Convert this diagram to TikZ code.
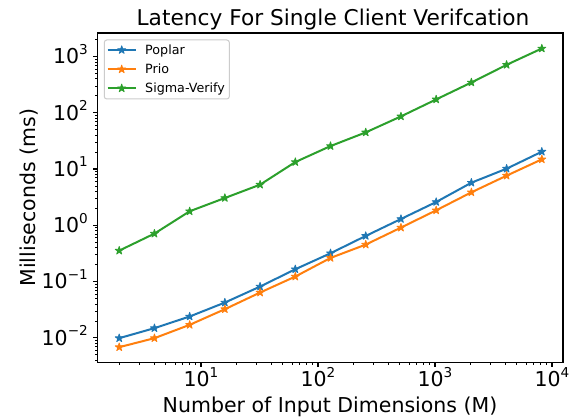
\documentclass[tikz,border=0pt]{standalone}
\usepackage{fontspec}
\setmainfont{DejaVu Sans}
\definecolor{tabblue}{HTML}{1F77B4}
\definecolor{taborange}{HTML}{FF7F0E}
\definecolor{tabgreen}{HTML}{2CA02C}
\definecolor{legedge}{HTML}{CCCCCC}
\pgfdeclareplotmark{fstar}{%
  \pgfpathmoveto{\pgfpointpolar{90}{\pgfplotmarksize}}%
  \pgfpathlineto{\pgfpointpolar{126}{0.382*\pgfplotmarksize}}%
  \pgfpathlineto{\pgfpointpolar{162}{\pgfplotmarksize}}%
  \pgfpathlineto{\pgfpointpolar{198}{0.382*\pgfplotmarksize}}%
  \pgfpathlineto{\pgfpointpolar{234}{\pgfplotmarksize}}%
  \pgfpathlineto{\pgfpointpolar{270}{0.382*\pgfplotmarksize}}%
  \pgfpathlineto{\pgfpointpolar{306}{\pgfplotmarksize}}%
  \pgfpathlineto{\pgfpointpolar{342}{0.382*\pgfplotmarksize}}%
  \pgfpathlineto{\pgfpointpolar{18}{\pgfplotmarksize}}%
  \pgfpathlineto{\pgfpointpolar{54}{0.382*\pgfplotmarksize}}%
  \pgfpathclose
  \pgfusepathqfillstroke}
\newcommand\tp[1]{10\raisebox{9.5pt}{\fontsize{13.6}{14}\selectfont #1}}
\newcommand\bigfont{\fontsize{20.5}{24}\selectfont}
\begin{document}
\begin{tikzpicture}[x=1pt,y=-1pt,
  series/.style={line width=2pt, line join=round, draw=#1,
    mark=fstar, mark size=4.2pt, mark options={fill=#1, draw=#1, line width=0.8pt}},
  ticklab/.style={inner sep=0pt, font=\bigfont},
  legtext/.style={anchor=base west, inner sep=0pt, font=\fontsize{12.7}{14}\selectfont}]
\useasboundingbox[fill=white] (0,0) rectangle (571,419);

% data
\begin{scope}[shift={(84,225.3)}, x=117pt, y=56.27pt]
\draw[series=tabblue] plot coordinates {
 (0.301,-2.006) (0.602,-1.828) (0.903,-1.621) (1.204,-1.373) (1.505,-1.089)
 (1.806,-0.781) (2.107,-0.497) (2.408,-0.189) (2.709,0.112) (3.010,0.414)
 (3.311,0.757) (3.612,1.006) (3.913,1.308)};
\draw[series=taborange] plot coordinates {
 (0.301,-2.166) (0.602,-2.006) (0.903,-1.769) (1.204,-1.491) (1.505,-1.195)
 (1.806,-0.911) (2.107,-0.580) (2.408,-0.343) (2.709,-0.041) (3.010,0.266)
 (3.311,0.586) (3.612,0.882) (3.913,1.172)};
\draw[series=tabgreen] plot coordinates {
 (0.301,-0.450) (0.602,-0.148) (0.903,0.249) (1.204,0.485) (1.505,0.722)
 (1.806,1.124) (2.107,1.408) (2.408,1.651) (2.709,1.935) (3.010,2.237)
 (3.311,2.538) (3.612,2.852) (3.913,3.142)};
\end{scope}

% minor ticks
\begin{scope}
\clip (97,362) rectangle (563.5,372);
\foreach \n in {0,...,4} \foreach \k in {2,...,9} {
  \pgfmathsetmacro\px{84+117*(\n+log10(\k))}
  \draw[line width=0.8pt] (\px,362.5) -- ++(0,2.8);}
\end{scope}
\begin{scope}
\clip (85,32.5) rectangle (98,363);
\foreach \n in {-3,...,3} \foreach \k in {2,...,9} {
  \pgfmathsetmacro\py{225.3-56.27*(\n+log10(\k))}
  \draw[line width=0.8pt] (97.5,\py) -- ++(-2.8,0);}
\end{scope}

% major ticks and labels
\foreach \e/\lab in {1/1,2/2,3/3,4/4} {
  \pgfmathsetmacro\px{84+117*\e}
  \draw[line width=1.1pt] (\px,362.5) -- ++(0,5);
  \node[ticklab, anchor=base] (xt\e) at (\px,386.8) {\tp{\lab}};}
\foreach \e/\lab in {3/3,2/2,1/1,0/0,-1/−1,-2/−2} {
  \pgfmathsetmacro\py{225.3-56.27*\e}
  \draw[line width=1.1pt] (97.5,\py) -- ++(-5,0);
  \node[ticklab, anchor=base east] (yt\lab) at (88,\py+7.3) {\tp{\lab}};}

% axes frame
\draw[line width=1.1pt] (97.5,33) rectangle (563,362.5);

% labels
\node[anchor=base, inner sep=0pt, font=\fontsize{21.7}{25}\selectfont] (title) at (333,26) {Latency For Single Client Verifcation};
\node[anchor=base, inner sep=0pt, font=\bigfont] (xlab) at (330,412.7) {Number of Input Dimensions (M)};
\node[anchor=base, inner sep=0pt, font=\bigfont, rotate=90] (ylab) at (35.7,197.7) {Milliseconds (ms)};

% legend
\draw[legedge, line width=1pt, fill=white, fill opacity=0.8, rounded corners=2.5pt] (104.3,40) rectangle (229.3,99);
\coordinate (l1a) at (107.7,50); \coordinate (l1b) at (135.7,50);
\coordinate (l2a) at (107.7,69.3); \coordinate (l2b) at (135.7,69.3);
\coordinate (l3a) at (107.7,88.3); \coordinate (l3b) at (135.7,88.3);
\draw[line width=2pt, tabblue] (l1a) -- (l1b);
\draw[line width=2pt, taborange] (l2a) -- (l2b);
\draw[line width=2pt, tabgreen] (l3a) -- (l3b);
\draw[series=tabblue] plot coordinates {(121.7,50)};
\draw[series=taborange] plot coordinates {(121.7,69.3)};
\draw[series=tabgreen] plot coordinates {(121.7,88.3)};
\node[legtext] (t1) at (145,54.6) {Poplar};
\node[legtext] (t2) at (145,73.9) {Prio};
\node[legtext] (t3) at (145,92.9) {Sigma-Verify};
\end{tikzpicture}
\end{document}
